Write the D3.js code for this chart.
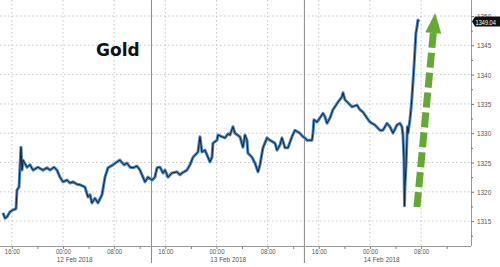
<!DOCTYPE html>
<html>
<head>
<meta charset="utf-8">
<script src="https://cdn.jsdelivr.net/npm/d3@7"></script>
<style>
  body { margin: 0; background: #fff; }
  text { font-family: "Liberation Sans", Arial, sans-serif; }
</style>
</head>
<body>
<svg id="chart" width="500" height="267"></svg>
<script>
// hours after 12 Feb 2018 00:00
const hours = [-9.38, -9.07, -8.76, -8.29, -7.82, -7.35, -7.19, -6.88, -6.57, -6.41, -6.25, -5.63, -5.16, -4.69, -3.91, -3.13, -2.50, -2.03, -1.41, -0.94, -0.47,
  0, 0.63, 1.09, 1.56, 2.19, 2.66, 3.44, 3.91, 4.22, 4.53, 5.00, 5.47, 6.10, 6.57, 7.04, 7.82, 8.44, 8.91, 9.54, 10.01, 10.48, 10.94, 11.57, 12.04, 12.82, 13.29, 13.92,
  14.38, 14.70, 15.17, 15.64, 15.95, 16.42, 17.04, 17.82, 18.29, 18.61, 19.39, 19.86, 20.33, 21.11, 21.42, 21.73, 22.20, 22.67, 22.98, 23.30, 23.45,
  24.08, 24.23, 24.86, 25.33, 25.80, 26.11, 26.58, 26.89, 27.67, 28.14, 28.46, 28.77, 28.92, 29.55, 30.02, 30.49, 30.80, 31.27, 31.90, 32.36, 33.15, 33.46, 33.93,
  34.24, 34.71, 35.18, 35.80, 36.27, 36.74, 37.05, 37.52, 37.84, 38.15, 38.93, 39.09, 39.24, 39.71, 40.18, 40.65, 40.96, 41.28, 41.75, 42.21, 43.00, 43.62, 43.78,
  44.09, 44.56, 45.19, 45.97, 46.44, 46.91, 47.53, 48.00, 48.78, 49.56, 50.03, 50.66, 51.13, 51.60, 52.22, 52.69, 53.00, 53.16, 53.32, 53.40, 53.47, 53.63, 53.78,
  53.85, 53.94, 54.25, 54.41, 54.57, 54.72, 54.88, 55.04, 55.19, 55.35, 55.50, 55.66];

const prices = [1316.4, 1315.5, 1315.7, 1316.6, 1316.9, 1317.1, 1320.3, 1320.8, 1327.6, 1323.7, 1325.4, 1324.2, 1324.6, 1323.7, 1324.2, 1323.7, 1324.1, 1323.7, 1324.2, 1323.7, 1322.5,
  1321.7, 1322.0, 1321.5, 1321.7, 1321.3, 1321.2, 1320.8, 1319.1, 1319.5, 1318.1, 1318.9, 1318.1, 1319.5, 1322.5, 1324.1, 1324.6, 1325.1, 1325.4, 1324.6, 1324.9, 1324.2, 1324.1, 1324.4, 1323.7, 1321.7, 1322.5, 1322.0,
  1322.5, 1324.1, 1324.2, 1323.2, 1323.7, 1322.5, 1323.2, 1323.4, 1322.9, 1323.2, 1323.7, 1324.6, 1325.9, 1326.8, 1329.4, 1326.8, 1327.1, 1325.9, 1325.1, 1325.9, 1328.3,
  1328.8, 1329.7, 1329.4, 1329.2, 1329.9, 1329.7, 1331.1, 1330.0, 1329.4, 1327.6, 1329.7, 1328.8, 1326.6, 1325.9, 1324.9, 1323.4, 1324.6, 1327.5, 1329.2, 1328.8, 1328.3, 1327.1, 1328.0,
  1329.2, 1327.5, 1327.5, 1329.4, 1330.5, 1330.2, 1330.0, 1329.4, 1329.2, 1328.8, 1328.8, 1330.0, 1332.3, 1331.9, 1332.6, 1333.4, 1332.8, 1331.7, 1332.6, 1334.0, 1335.3, 1336.2, 1336.9,
  1335.7, 1335.2, 1334.5, 1334.8, 1334.0, 1333.6, 1332.6, 1331.9, 1331.4, 1330.5, 1330.5, 1331.7, 1331.1, 1330.0, 1331.4, 1331.7, 1331.1, 1329.7, 1325.4, 1317.6, 1320.8, 1324.2, 1328.8,
  1331.1, 1330.0, 1332.3, 1334.0, 1336.2, 1338.6, 1341.3, 1344.2, 1347.1, 1348.1, 1349.3, 1349.04];

const lastPrice = 1349.04;
const title = "Gold";
const yTicks = [1315, 1320, 1325, 1330, 1335, 1340, 1345, 1350];
const yMinorTicks = [1312.5, 1317.5, 1322.5, 1327.5, 1332.5, 1337.5, 1342.5, 1347.5];
const timeLabels = ["16:00", "00:00", "08:00"];
const dayLabels = ["12 Feb 2018", "13 Feb 2018", "14 Feb 2018"];
const dayLabelTimes = ["2018-02-12T01:50", "2018-02-13T01:50", "2018-02-14T01:50"];
const daySeparators = ["2018-02-12T13:50", "2018-02-13T13:45"];
const xStart = "2018-02-11T14:09", xEnd = "2018-02-14T15:48";
const yMin = 1310.75, yMax = 1352.73;
// green arrow annotation: tail and tip in (time, price)
const arrowTail = ["2018-02-14T07:21", 1317.4];
const arrowTip = ["2018-02-14T10:12", 1350.5];

const base = new Date("2018-02-12T00:00");
const data = hours.map((h, i) => ({ t: new Date(+base + h * 3600e3), p: prices[i] }));

const W = 500, H = 267;
const plotW = 471, plotH = 246;
const svg = d3.select("#chart");
const g = svg.append("g");

const x = d3.scaleTime().domain([new Date(xStart), new Date(xEnd)]).range([0, plotW]);
const y = d3.scaleLinear().domain([yMin, yMax]).range([plotH, 0]);

const fourHourTicks = x.ticks(d3.timeHour.every(4));
const labelTicks = fourHourTicks.filter(d => timeLabels.includes(d3.timeFormat("%H:%M")(d)));

// squeeze small labels, the original uses a narrow face
function narrow(sel, k) {
  sel.each(function () {
    const w = this.getComputedTextLength();
    if (w > 0) d3.select(this).attr("textLength", w * k).attr("lengthAdjust", "spacingAndGlyphs");
  });
}

// grid
g.append("g").selectAll("line").data(yTicks).join("line")
  .attr("x1", 0).attr("x2", plotW)
  .attr("y1", d => y(d)).attr("y2", d => y(d))
  .attr("stroke", "#c8c8c8").attr("stroke-dasharray", "1.5,2.5");
g.append("g").selectAll("line").data(labelTicks).join("line")
  .attr("x1", d => x(d)).attr("x2", d => x(d))
  .attr("y1", 0).attr("y2", plotH)
  .attr("stroke", "#c8c8c8").attr("stroke-dasharray", "1.5,2.5");

// day separators
g.append("g").selectAll("line").data(daySeparators).join("line")
  .attr("x1", d => x(new Date(d))).attr("x2", d => x(new Date(d)))
  .attr("y1", 0).attr("y2", 263)
  .attr("stroke", "#8a8a8a").attr("stroke-width", 1);

// price line
const line = d3.line().x(d => x(d.t)).y(d => y(d.p));
g.append("path").datum(data).attr("d", line)
  .attr("fill", "none").attr("stroke", "#4a88c8").attr("stroke-width", 3).attr("stroke-linejoin", "round");
g.append("path").datum(data).attr("d", line)
  .attr("fill", "none").attr("stroke", "#18222e").attr("stroke-width", 1).attr("stroke-linejoin", "round");

// right axis
const yAxis = g.append("g").attr("transform", `translate(${plotW},0)`)
  .call(d3.axisRight(y).tickValues(yTicks).tickSize(3).tickPadding(3).tickFormat(d3.format("d")));
g.append("g").attr("transform", `translate(${plotW},0)`)
  .call(d3.axisRight(y).tickValues(yMinorTicks).tickSize(2).tickFormat(""))
  .call(a => a.select(".domain").remove());
g.selectAll(".domain").attr("stroke", "#999").attr("d", `M0.5,0V${plotH}`);
g.selectAll(".tick line").attr("stroke", "#777");
yAxis.selectAll("text").attr("fill", "#555").style("font-size", "8px").call(narrow, 0.8);

// bottom axis
const xAxis = g.append("g").attr("transform", `translate(0,${plotH})`)
  .call(d3.axisBottom(x).tickValues(fourHourTicks).tickSize(3)
    .tickFormat(d => labelTicks.some(l => +l === +d) ? d3.timeFormat("%H:%M")(d) : ""));
xAxis.select(".domain").attr("stroke", "#999").attr("d", `M0,0.5H${plotW}`);
xAxis.selectAll(".tick line").attr("stroke", "#888");
xAxis.selectAll("text").attr("y", 8).attr("dy", null)
  .attr("fill", "#555").style("font-size", "7.5px").call(narrow, 0.8);

g.append("g").selectAll("text").data(dayLabels).join("text")
  .attr("x", (d, i) => x(new Date(dayLabelTimes[i])))
  .attr("y", 262)
  .attr("text-anchor", "middle")
  .attr("fill", "#555").style("font-size", "7.5px")
  .text(d => d)
  .call(narrow, 0.85);

// last price tag
const ly = y(lastPrice);
g.append("path")
  .attr("d", `M${plotW + 1},${ly} L${plotW + 4},${ly - 5} H${W} V${ly + 5} H${plotW + 4} Z`)
  .attr("fill", "#111");
g.append("text").attr("x", plotW + 4.5).attr("y", ly + 3)
  .attr("fill", "#fff").style("font-size", "7.5px").text(d3.format(".2f")(lastPrice))
  .call(narrow, 0.75);

// title
g.append("text").attr("x", 96).attr("y", 56)
  .style("font-family", "'DejaVu Sans', Verdana, sans-serif")
  .style("font-weight", "bold").style("font-size", "17px")
  .attr("fill", "#111").text(title);

// green dashed arrow
const ax0 = x(new Date(arrowTail[0])), ay0 = y(arrowTail[1]);
const ax1 = x(new Date(arrowTip[0])), ay1 = y(arrowTip[1]);
const ang = Math.atan2(ay1 - ay0, ax1 - ax0);
const headLen = 20, headHalf = 8;
const bx = ax1 - headLen * Math.cos(ang), by = ay1 - headLen * Math.sin(ang);
const nx = -Math.sin(ang), ny = Math.cos(ang);
g.append("line")
  .attr("x1", ax0).attr("y1", ay0).attr("x2", bx).attr("y2", by)
  .attr("stroke", "#66a834").attr("stroke-width", 7)
  .attr("stroke-dasharray", "15,5");
g.append("path")
  .attr("d", `M${ax1},${ay1} L${bx + nx * headHalf},${by + ny * headHalf} L${bx - nx * headHalf},${by - ny * headHalf} Z`)
  .attr("fill", "#66a834");
</script>
</body>
</html>
